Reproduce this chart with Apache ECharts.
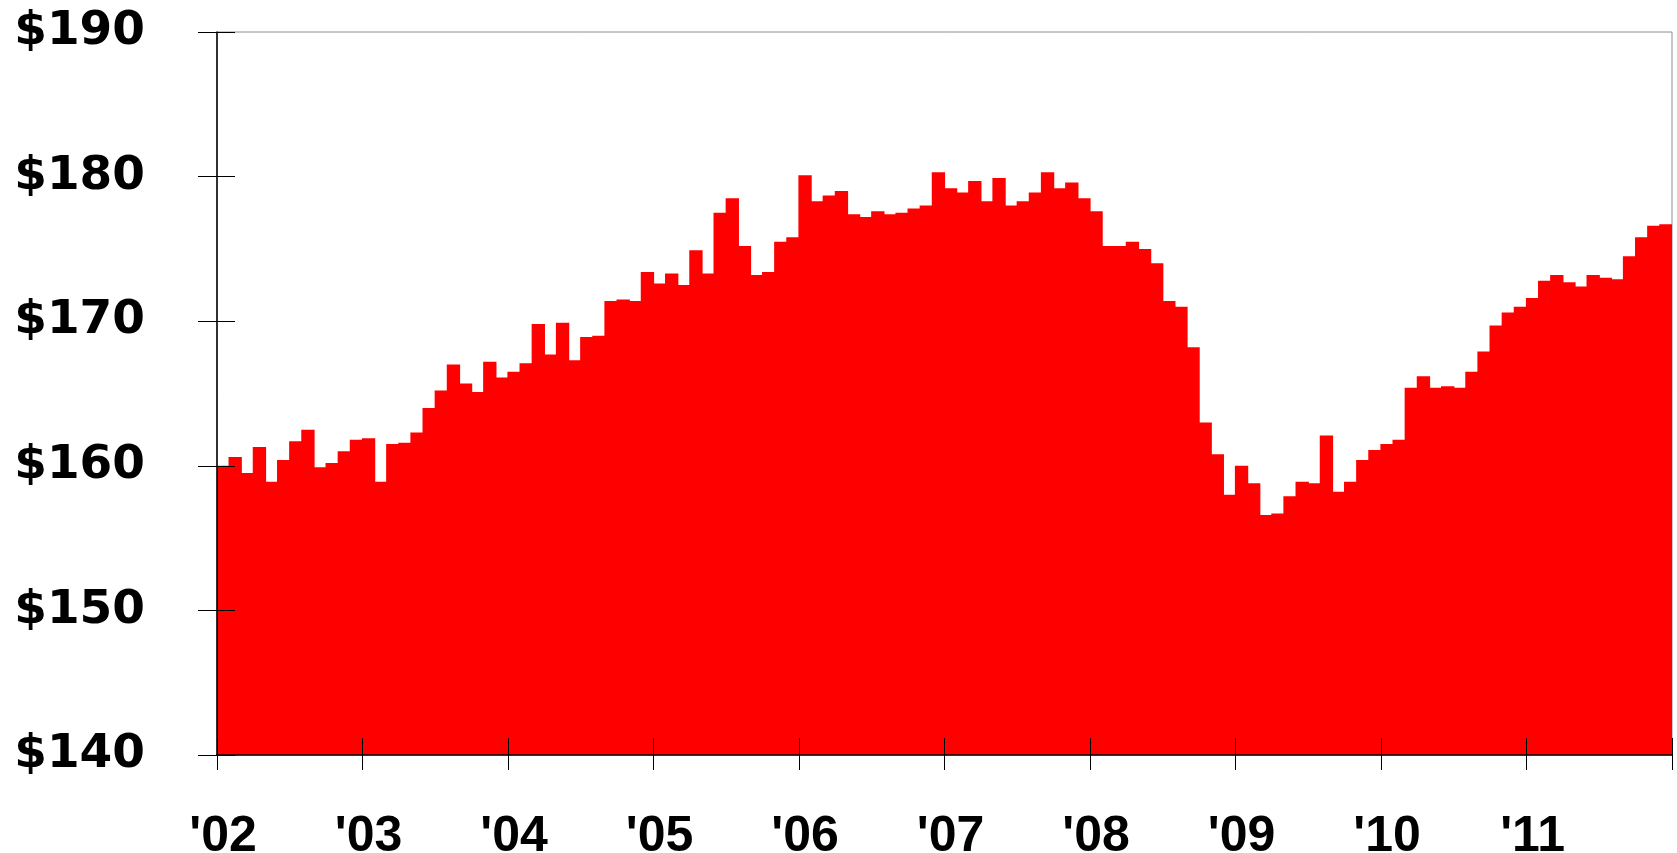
<!DOCTYPE html>
<html>
<head>
<meta charset="utf-8">
<script src="https://cdn.jsdelivr.net/npm/echarts@6/dist/echarts.min.js"></script>
<style>
  html, body { margin: 0; padding: 0; background: #fff; }
  #chart { width: 1677px; height: 853px; }
</style>
</head>
<body>
<div id="chart"></div>
<script>
// monthly values, Jan 2002 .. Dec 2011
const years = ['2002', '2003', '2004', '2005', '2006', '2007', '2008', '2009', '2010', '2011']
const values2002 = [160.0, 160.6, 159.5, 161.3, 158.9, 160.4, 161.7, 162.5, 159.9, 160.2, 161.0, 161.8]
const values2003 = [161.9, 158.9, 161.5, 161.6, 162.3, 164.0, 165.2, 167.0, 165.7, 165.1, 167.2, 166.1]
const values2004 = [166.5, 167.1, 169.8, 167.7, 169.9, 167.3, 168.9, 169.0, 171.4, 171.5, 171.4, 173.4]
const values2005 = [172.6, 173.3, 172.5, 174.9, 173.3, 177.5, 178.5, 175.2, 173.2, 173.4, 175.5, 175.8]
const values2006 = [180.1, 178.3, 178.7, 179.0, 177.4, 177.2, 177.6, 177.4, 177.5, 177.8, 178.0, 180.3]
const values2007 = [179.2, 178.9, 179.7, 178.3, 179.9, 178.0, 178.3, 178.9, 180.3, 179.2, 179.6, 178.5]
const values2008 = [177.6, 175.2, 175.2, 175.5, 175.0, 174.0, 171.4, 171.0, 168.2, 163.0, 160.8, 158.0]
const values2009 = [160.0, 158.8, 156.6, 156.7, 157.9, 158.9, 158.8, 162.1, 158.2, 158.9, 160.4, 161.1]
const values2010 = [161.5, 161.8, 165.4, 166.2, 165.4, 165.5, 165.4, 166.5, 167.9, 169.7, 170.6, 171.0]
const values2011 = [171.6, 172.8, 173.2, 172.7, 172.4, 173.2, 173.0, 172.9, 174.5, 175.8, 176.6, 176.7]
const yTicks = [140, 150, 160, 170, 180, 190]

const values = [].concat(values2002, values2003, values2004, values2005, values2006,
  values2007, values2008, values2009, values2010, values2011)
const months = []
years.forEach(y => {
  for (let m = 1; m <= 12; m++) months.push(y + '-' + (m < 10 ? '0' + m : m))
})

var myChart = echarts.init(document.getElementById('chart'), null, { renderer: 'canvas' })

const option = {
  animation: false,
  grid: {
    left: 217,
    right: 5,
    top: 32,
    bottom: 98,
    containLabel: false,
    outerBoundsMode: 'none',
    show: true,
    borderColor: '#8c8c8c',
    borderWidth: 1
  },
  xAxis: [
    {
      type: 'category',
      data: months,
      boundaryGap: true,
      z: 5,
      axisLine: { show: true, onZero: false, lineStyle: { color: '#000', width: 1.5 } },
      axisTick: { show: true, interval: 11, length: 15, lineStyle: { color: '#000', width: 1 } },
      axisLabel: {
        interval: 11,
        margin: 57,
        formatter: v => "'" + v.slice(2, 4),
        color: '#000',
        fontFamily: 'Liberation Sans',
        fontWeight: 'bold',
        fontSize: 50
      }
    },
    {
      type: 'category',
      data: months,
      position: 'bottom',
      boundaryGap: true,
      z: 5,
      axisLine: { show: false, onZero: false },
      axisTick: { show: true, inside: true, interval: 11, length: 17, lineStyle: { color: '#000', width: 1 } },
      axisLabel: { show: false }
    }
  ],
  yAxis: [
    {
      type: 'value',
      min: yTicks[0],
      max: yTicks[yTicks.length - 1],
      interval: 10,
      z: 5,
      splitLine: { show: false },
      axisLine: { show: true, lineStyle: { color: '#000', width: 1.5 } },
      axisTick: { show: true, length: 19, lineStyle: { color: '#000', width: 1 } },
      axisLabel: {
        margin: 72,
        formatter: v => '$' + v,
        color: '#000',
        fontFamily: 'DejaVu Sans',
        fontWeight: 'bold',
        fontSize: 47
      }
    },
    {
      type: 'value',
      min: yTicks[0],
      max: yTicks[yTicks.length - 1],
      interval: 10,
      position: 'left',
      z: 5,
      splitLine: { show: false },
      axisLine: { show: false },
      axisTick: { show: true, inside: true, length: 18, lineStyle: { color: '#000', width: 1 } },
      axisLabel: { show: false }
    }
  ],
  series: [
    {
      type: 'bar',
      data: values,
      // slightly wider than the band so neighbouring bars overlap (no seams)
      barWidth: '110%',
      barGap: '-100%',
      itemStyle: { color: '#ff0000' },
      silent: true
    }
  ]
}

myChart.setOption(option, true)
</script>
</body>
</html>
